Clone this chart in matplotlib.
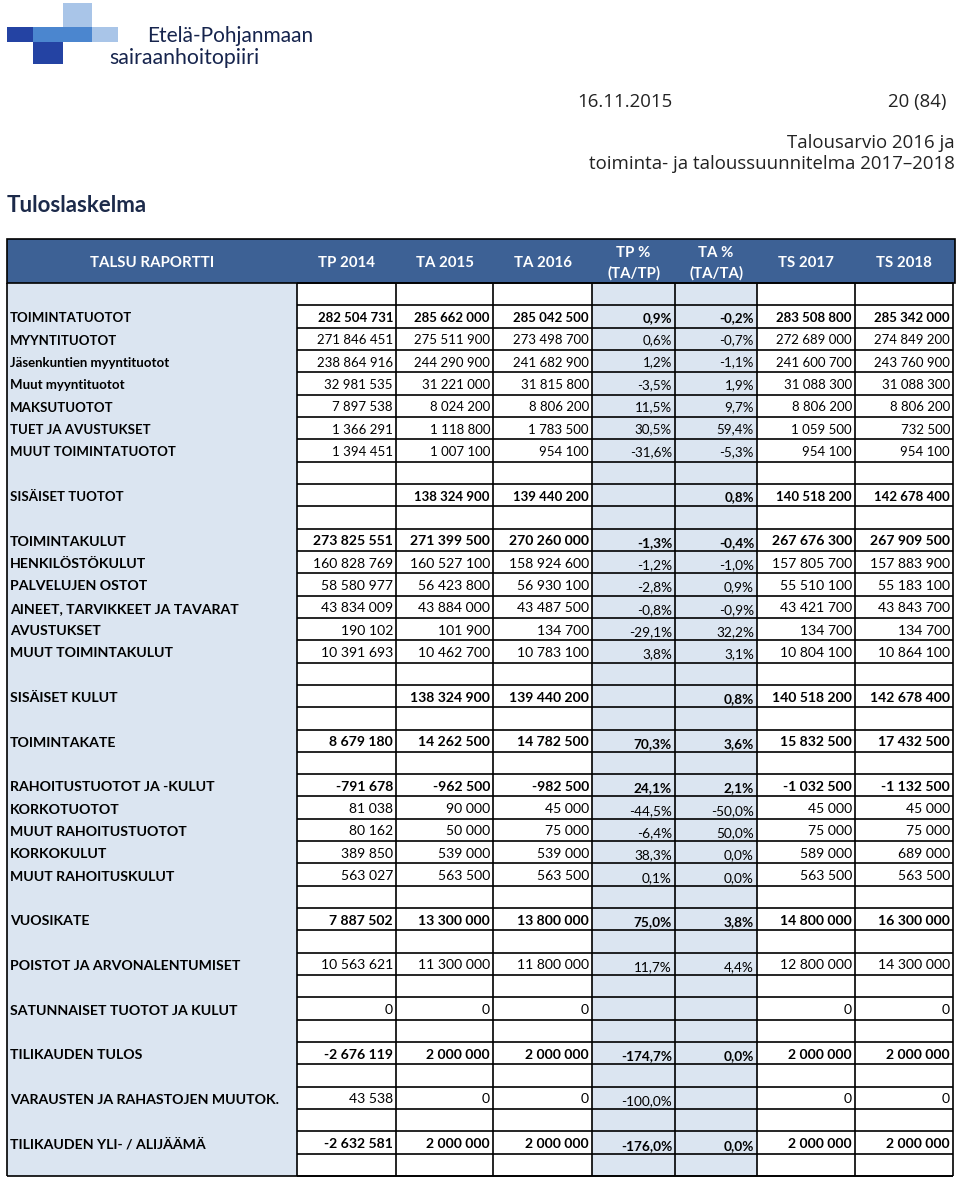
import matplotlib.pyplot as plt
from matplotlib.patches import Rectangle

plt.rcParams["font.family"] = ["Lato", "DejaVu Sans"]

# taulukon rivit, tyhjä = välirivi
rivit = ["", "TOIMINTATUOTOT", "MYYNTITUOTOT", "Jäsenkuntien myyntituotot",
         "Muut myyntituotot", "MAKSUTUOTOT", "TUET JA AVUSTUKSET",
         "MUUT TOIMINTATUOTOT", "", "SISÄISET TUOTOT", "", "TOIMINTAKULUT",
         "HENKILÖSTÖKULUT", "PALVELUJEN OSTOT", "AINEET, TARVIKKEET JA TAVARAT",
         "AVUSTUKSET", "MUUT TOIMINTAKULUT", "", "SISÄISET KULUT", "",
         "TOIMINTAKATE", "", "RAHOITUSTUOTOT JA -KULUT", "KORKOTUOTOT",
         "MUUT RAHOITUSTUOTOT", "KORKOKULUT", "MUUT RAHOITUSKULUT", "",
         "VUOSIKATE", "", "POISTOT JA ARVONALENTUMISET", "",
         "SATUNNAISET TUOTOT JA KULUT", "", "TILIKAUDEN TULOS", "",
         "VARAUSTEN JA RAHASTOJEN MUUTOK.", "", "TILIKAUDEN YLI- / ALIJÄÄMÄ", ""]

otsikot = ["TALSU RAPORTTI", "TP 2014", "TA 2015", "TA 2016", "TP %\n(TA/TP)",
           "TA %\n(TA/TA)", "TS 2017", "TS 2018"]

tp2014 = [282504731, 271846451, 238864916, 32981535, 7897538, 1366291, 1394451,
          None, 273825551, 160828769, 58580977, 43834009, 190102, 10391693,
          None, 8679180, -791678, 81038, 80162, 389850, 563027, 7887502,
          10563621, 0, -2676119, 43538, -2632581]
ta2015 = [285662000, 275511900, 244290900, 31221000, 8024200, 1118800, 1007100,
          138324900, 271399500, 160527100, 56423800, 43884000, 101900, 10462700,
          138324900, 14262500, -962500, 90000, 50000, 539000, 563500, 13300000,
          11300000, 0, 2000000, 0, 2000000]
ta2016 = [285042500, 273498700, 241682900, 31815800, 8806200, 1783500, 954100,
          139440200, 270260000, 158924600, 56930100, 43487500, 134700, 10783100,
          139440200, 14782500, -982500, 45000, 75000, 539000, 563500, 13800000,
          11800000, 0, 2000000, 0, 2000000]
tp_pros = [0.9, 0.6, 1.2, -3.5, 11.5, 30.5, -31.6, None, -1.3, -1.2, -2.8, -0.8,
           -29.1, 3.8, None, 70.3, 24.1, -44.5, -6.4, 38.3, 0.1, 75.0, 11.7,
           None, -174.7, -100.0, -176.0]
ta_pros = [-0.2, -0.7, -1.1, 1.9, 9.7, 59.4, -5.3, 0.8, -0.4, -1.0, 0.9, -0.9,
           32.2, 3.1, 0.8, 3.6, 2.1, -50.0, 50.0, 0.0, 0.0, 3.8, 4.4, None, 0.0,
           None, 0.0]
ts2017 = [283508800, 272689000, 241600700, 31088300, 8806200, 1059500, 954100,
          140518200, 267676300, 157805700, 55510100, 43421700, 134700, 10804100,
          140518200, 15832500, -1032500, 45000, 75000, 589000, 563500, 14800000,
          12800000, 0, 2000000, 0, 2000000]
ts2018 = [285342000, 274849200, 243760900, 31088300, 8806200, 732500, 954100,
          142678400, 267909500, 157883900, 55183100, 43843700, 134700, 10864100,
          142678400, 17432500, -1132500, 45000, 75000, 689000, 563500, 16300000,
          14300000, 0, 2000000, 0, 2000000]

lihavoidut = {"TOIMINTATUOTOT", "SISÄISET TUOTOT", "TOIMINTAKULUT",
              "SISÄISET KULUT", "TOIMINTAKATE", "RAHOITUSTUOTOT JA -KULUT",
              "VUOSIKATE", "TILIKAUDEN TULOS", "TILIKAUDEN YLI- / ALIJÄÄMÄ"}

TUMMA = "#3d6195"
VAALEA = "#dbe5f1"
reunat = [7, 297, 396, 493, 592, 675, 757, 855, 953]
y_ylä, y_ala = 283, 1176
h = (y_ala - y_ylä) / len(rivit)


def luku(v):
    return "" if v is None else f"{v:,}".replace(",", " ")


def pros(p):
    return "" if p is None else f"{p:.1f}%".replace(".", ",")


fig = plt.figure(figsize=(9.6, 11.79), dpi=100)
ax = fig.add_axes([0, 0, 1, 1])
ax.set_xlim(0, 960)
ax.set_ylim(1179, 0)
ax.axis("off")

# logo
ax.add_patch(Rectangle((63, 3), 29, 24, fc="#a9c5e8", lw=0))
ax.add_patch(Rectangle((7, 27), 26, 15, fc="#2443a3", lw=0))
ax.add_patch(Rectangle((33, 27), 59, 15, fc="#4b86cf", lw=0))
ax.add_patch(Rectangle((92, 27), 26, 15, fc="#a9c5e8", lw=0))
ax.add_patch(Rectangle((33, 42), 30, 22, fc="#2443a3", lw=0))
ax.text(147, 36, "Etelä-Pohjanmaan", fontsize=15, color="#16244d", va="center")
ax.text(109, 58, "sairaanhoitopiiri", fontsize=15.3, color="#16244d", va="center")

# sivun otsikot
otsake = dict(family=["Open Sans", "DejaVu Sans"], color="#222222", va="center")
ax.text(577, 102, "16.11.2015", fontsize=13.4, **otsake)
ax.text(946, 102, "20 (84)", fontsize=13.4, ha="right", **otsake)
ax.text(955, 143, "Talousarvio 2016 ja", fontsize=13.4, ha="right", **otsake)
ax.text(955, 164, "toiminta- ja taloussuunnitelma 2017–2018", fontsize=13.4,
        ha="right", **otsake)
ax.text(7, 206, "Tuloslaskelma", fontsize=16, fontweight="bold",
        color="#1c2a4a", va="center")

# taustat
ax.add_patch(Rectangle((reunat[0], y_ylä), reunat[1] - reunat[0], y_ala - y_ylä,
                       fc=VAALEA, lw=0))
ax.add_patch(Rectangle((reunat[4], y_ylä), reunat[6] - reunat[4], y_ala - y_ylä,
                       fc=VAALEA, lw=0))

# otsikkorivi
ax.add_patch(Rectangle((7, 239), 948, y_ylä - 239, fc=TUMMA, ec="black", lw=1.2))
for i, t in enumerate(otsikot):
    xc = (reunat[i] + reunat[i + 1]) / 2
    ax.text(xc, 263, t, ha="center", va="center", color="white",
            fontsize=10.8, fontweight="bold", linespacing=1.5)

# ruudukko
for r in range(len(rivit) + 1):
    ax.hlines(y_ylä + r * h, reunat[1], reunat[-1], color="black", lw=1.2)
for x in reunat:
    ax.vlines(x, y_ylä, y_ala, color="black", lw=1.2)
ax.hlines(y_ala, reunat[0], reunat[-1], color="black", lw=1.2)

# solut
sarakkeet = [tp2014, ta2015, ta2016, tp_pros, ta_pros, ts2017, ts2018]
k = 0
for r, nimi in enumerate(rivit):
    if not nimi:
        continue
    yc = y_ylä + (r + 0.5) * h
    eka_osio = r <= 9
    paino = "bold" if nimi in lihavoidut else "normal"
    ax.text(10, yc + 2, nimi, va="center", ha="left", fontweight="bold",
            fontsize=9.5 if eka_osio else 10.2, color="black")
    for j, sarake in enumerate(sarakkeet):
        v = sarake[k]
        x = reunat[j + 2] - 3
        if j in (3, 4):
            if eka_osio:
                ax.text(x, yc + 1.5, pros(v), ha="right", va="center",
                        fontsize=9.6, fontweight=paino)
            else:
                ax.text(x, y_ylä + (r + 1) * h - 2, pros(v), ha="right",
                        va="bottom", fontsize=9.8, fontweight=paino)
        else:
            ax.text(x, yc + 1.5, luku(v), ha="right", va="center",
                    fontsize=9.5 if eka_osio else 10.1, fontweight=paino)
    k += 1

fig.savefig("out.png", dpi=100)
